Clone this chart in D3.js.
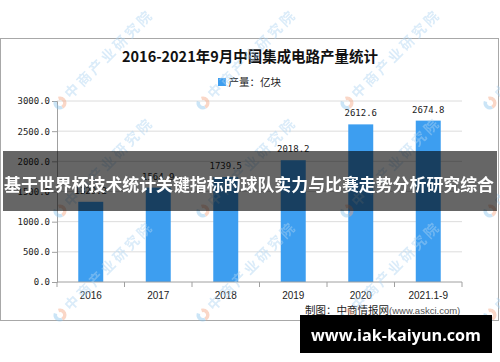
<!DOCTYPE html>
<html>
<head>
<meta charset="utf-8">
<script src="https://cdn.jsdelivr.net/npm/d3@7"></script>
<style>
  html, body { margin: 0; padding: 0; background: #fff; }
  svg { display: block; }
</style>
</head>
<body>
<div id="vis"></div>
<script>
const width = 500;
const height = 362;

// data
const years = ["2016", "2017", "2018", "2019", "2020", "2021.1-9"];
const output = [1329.2, 1564.9, 1739.5, 2018.2, 2612.6, 2674.8];
const yTicks = [0, 500, 1000, 1500, 2000, 2500, 3000];

const title = "2016-2021年9月中国集成电路产量统计";
const legendLabel = "产量：亿块";
const bannerText = "基于世界杯技术统计关键指标的球队实力与比赛走势分析研究综合";
const siteText = "www.iak-kaiyun.com";

const barColor = "#3d9ef0";
const mono = "'DejaVu Sans Mono', 'Liberation Mono', monospace";
const cjk = "'Noto Sans CJK SC', 'Noto Sans', sans-serif";

const svg = d3.select("#vis")
  .append("svg")
  .attr("width", width)
  .attr("height", height);

// chart frame
svg.append("rect")
  .attr("x", 0.5).attr("y", 38.5)
  .attr("width", 498).attr("height", 282)
  .attr("fill", "#fff")
  .attr("stroke", "#a8a8a8");

const x = d3.scaleBand()
  .domain(years)
  .range([57, 462])
  .paddingInner(0.63)
  .paddingOuter(0.315);

const y = d3.scaleLinear()
  .domain([0, 3000])
  .range([282, 101]);

// gridlines
svg.append("g")
  .selectAll("line")
  .data(yTicks.filter(d => d > 0))
  .join("line")
  .attr("x1", 57).attr("x2", 462)
  .attr("y1", d => y(d)).attr("y2", d => y(d))
  .attr("stroke", "#dcdcdc");

// y axis
const yAxis = svg.append("g")
  .attr("transform", "translate(57,0)")
  .call(d3.axisLeft(y).tickValues(yTicks).tickFormat(d3.format(".1f")).tickSize(5).tickPadding(2));
yAxis.select(".domain").attr("stroke", "#a0a0a0");
yAxis.selectAll(".tick line").attr("stroke", "#a0a0a0");
yAxis.selectAll("text")
  .attr("font-family", mono)
  .attr("font-size", 9)
  .attr("fill", "#222");

// bars
svg.append("g")
  .selectAll("rect")
  .data(output)
  .join("rect")
  .attr("x", (d, i) => x(years[i]))
  .attr("width", x.bandwidth())
  .attr("y", d => y(d))
  .attr("height", d => y(0) - y(d))
  .attr("fill", barColor);

// value labels
svg.append("g")
  .selectAll("text")
  .data(output)
  .join("text")
  .attr("x", (d, i) => x(years[i]) + x.bandwidth() / 2)
  .attr("y", d => y(d) - 8)
  .attr("text-anchor", "middle")
  .attr("font-family", mono)
  .attr("font-size", 9)
  .attr("fill", "#222")
  .text(d => d.toFixed(1));

// x axis, ticks sit between the categories
const xAxis = svg.append("g")
  .attr("transform", "translate(0,282)");
xAxis.append("line")
  .attr("x1", 57).attr("x2", 462)
  .attr("stroke", "#a0a0a0");
xAxis.selectAll(".sep")
  .data(d3.range(years.length + 1))
  .join("line")
  .attr("class", "sep")
  .attr("x1", i => 57 + i * x.step()).attr("x2", i => 57 + i * x.step())
  .attr("y1", 0).attr("y2", 5)
  .attr("stroke", "#a0a0a0");
xAxis.selectAll("text")
  .data(years)
  .join("text")
  .attr("x", d => x(d) + x.bandwidth() / 2)
  .attr("y", 17)
  .attr("text-anchor", "middle")
  .attr("font-family", "'Liberation Sans', Arial, sans-serif")
  .attr("font-size", 10)
  .attr("fill", "#222")
  .text(d => d);

// title + legend
svg.append("text")
  .attr("x", 250).attr("y", 62)
  .attr("text-anchor", "middle")
  .attr("font-family", cjk)
  .attr("font-size", 15)
  .attr("font-weight", 700)
  .attr("fill", "#111")
  .attr("textLength", 256)
  .attr("lengthAdjust", "spacingAndGlyphs")
  .text(title);

svg.append("rect")
  .attr("x", 218).attr("y", 78)
  .attr("width", 8).attr("height", 8)
  .attr("fill", barColor);
svg.append("text")
  .attr("x", 228.5).attr("y", 86)
  .attr("font-family", cjk)
  .attr("font-size", 10.5)
  .attr("fill", "#222")
  .text(legendLabel);

// source line
const src = svg.append("text")
  .attr("x", 305).attr("y", 314)
  .attr("font-family", cjk)
  .attr("font-size", 10.5)
  .attr("fill", "#222");
src.append("tspan").text("制图：中商情报网");
src.append("tspan")
  .attr("font-family", "'Liberation Sans', Arial, sans-serif")
  .attr("font-size", 9.5)
  .attr("fill", "#555")
  .text("(www.askci.com)");

// watermark tiles, clipped to the page
svg.append("clipPath").attr("id", "page")
  .append("rect").attr("width", width).attr("height", height);
const wmX = [60, 203, 347, 490];
const wmY = [103, 211, 315];
const wm = svg.append("g").attr("clip-path", "url(#page)").attr("opacity", 0.45);
wmY.forEach(ty => wmX.forEach(tx => {
  const t = wm.append("g").attr("transform", `translate(${tx},${ty}) rotate(-45)`);
  const arc = d3.arc().innerRadius(3).outerRadius(6.5);
  t.append("path").attr("d", arc({startAngle: Math.PI * 0.15, endAngle: Math.PI * 1.1})).attr("fill", "#f3a582");
  t.append("path").attr("d", arc({startAngle: Math.PI * 1.1, endAngle: Math.PI * 1.85})).attr("fill", "#8cc6ee");
  t.append("text")
    .attr("x", 10).attr("y", 5)
    .attr("font-family", cjk)
    .attr("font-size", 14)
    .attr("font-weight", 700)
    .attr("letter-spacing", 3)
    .attr("fill", "#aed4f2")
    .text("中商产业研究院");
}));

// dark overlay banner
svg.append("rect")
  .attr("x", 3).attr("y", 151)
  .attr("width", 494).attr("height", 60)
  .attr("fill", "#000")
  .attr("fill-opacity", 0.6);
svg.append("text")
  .attr("x", 249).attr("y", 183.5)
  .attr("text-anchor", "middle")
  .attr("dominant-baseline", "central")
  .attr("font-family", cjk)
  .attr("font-size", 17)
  .attr("font-weight", 700)
  .attr("fill", "#fff")
  .attr("textLength", 490)
  .attr("lengthAdjust", "spacingAndGlyphs")
  .text(bannerText);

// site badge
svg.append("rect")
  .attr("x", 300).attr("y", 315)
  .attr("width", 192).attr("height", 38)
  .attr("fill", "#000");
svg.append("text")
  .attr("x", 396).attr("y", 335)
  .attr("text-anchor", "middle")
  .attr("dominant-baseline", "central")
  .attr("font-family", "'Open Sans', 'DejaVu Sans', sans-serif")
  .attr("font-size", 16)
  .attr("font-weight", 700)
  .attr("fill", "#fff")
  .attr("textLength", 170)
  .attr("lengthAdjust", "spacingAndGlyphs")
  .text(siteText);
</script>
</body>
</html>
